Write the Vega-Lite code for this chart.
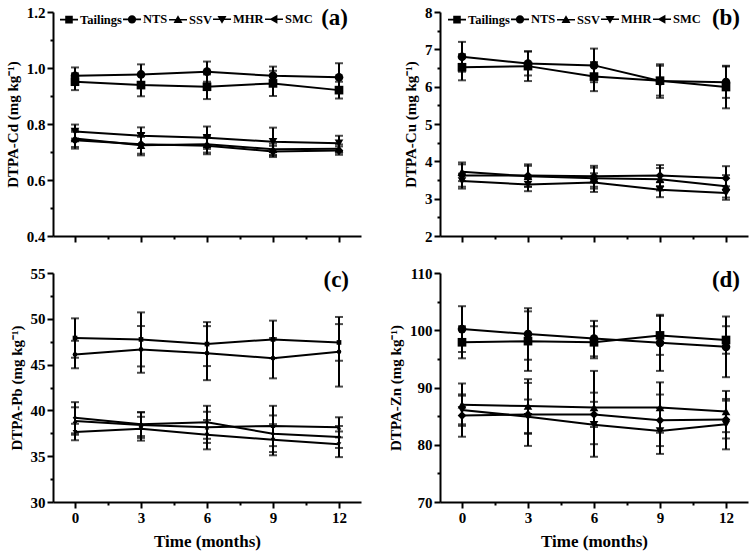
{
  "$schema": "https://vega.github.io/schema/vega-lite/v6.json",
  "background": "white",
  "padding": 5,
  "datasets": {
    "main": [
      {"p": "a", "s": "Tailings", "t": 0, "v": 0.951, "e": 0.03},
      {"p": "a", "s": "Tailings", "t": 3, "v": 0.939, "e": 0.04},
      {"p": "a", "s": "Tailings", "t": 6, "v": 0.933, "e": 0.044},
      {"p": "a", "s": "Tailings", "t": 9, "v": 0.945, "e": 0.045},
      {"p": "a", "s": "Tailings", "t": 12, "v": 0.921, "e": 0.03},
      {"p": "a", "s": "NTS", "t": 0, "v": 0.972, "e": 0.03},
      {"p": "a", "s": "NTS", "t": 3, "v": 0.977, "e": 0.036},
      {"p": "a", "s": "NTS", "t": 6, "v": 0.987, "e": 0.036},
      {"p": "a", "s": "NTS", "t": 9, "v": 0.972, "e": 0.033},
      {"p": "a", "s": "NTS", "t": 12, "v": 0.967, "e": 0.05},
      {"p": "a", "s": "SSV", "t": 0, "v": 0.748, "e": 0.03},
      {"p": "a", "s": "SSV", "t": 3, "v": 0.724, "e": 0.03},
      {"p": "a", "s": "SSV", "t": 6, "v": 0.728, "e": 0.03},
      {"p": "a", "s": "SSV", "t": 9, "v": 0.71, "e": 0.02},
      {"p": "a", "s": "SSV", "t": 12, "v": 0.712, "e": 0.015},
      {"p": "a", "s": "MHR", "t": 0, "v": 0.773, "e": 0.025},
      {"p": "a", "s": "MHR", "t": 3, "v": 0.758, "e": 0.03},
      {"p": "a", "s": "MHR", "t": 6, "v": 0.751, "e": 0.04},
      {"p": "a", "s": "MHR", "t": 9, "v": 0.737, "e": 0.05},
      {"p": "a", "s": "MHR", "t": 12, "v": 0.731, "e": 0.027},
      {"p": "a", "s": "SMC", "t": 0, "v": 0.742, "e": 0.03},
      {"p": "a", "s": "SMC", "t": 3, "v": 0.728, "e": 0.04},
      {"p": "a", "s": "SMC", "t": 6, "v": 0.722, "e": 0.03},
      {"p": "a", "s": "SMC", "t": 9, "v": 0.702, "e": 0.02},
      {"p": "a", "s": "SMC", "t": 12, "v": 0.705, "e": 0.015},
      {"p": "b", "s": "Tailings", "t": 0, "v": 6.52, "e": 0.35},
      {"p": "b", "s": "Tailings", "t": 3, "v": 6.55, "e": 0.4},
      {"p": "b", "s": "Tailings", "t": 6, "v": 6.27, "e": 0.39},
      {"p": "b", "s": "Tailings", "t": 9, "v": 6.16, "e": 0.4},
      {"p": "b", "s": "Tailings", "t": 12, "v": 5.99, "e": 0.57},
      {"p": "b", "s": "NTS", "t": 0, "v": 6.8, "e": 0.4},
      {"p": "b", "s": "NTS", "t": 3, "v": 6.62, "e": 0.32},
      {"p": "b", "s": "NTS", "t": 6, "v": 6.57, "e": 0.45},
      {"p": "b", "s": "NTS", "t": 9, "v": 6.15, "e": 0.45},
      {"p": "b", "s": "NTS", "t": 12, "v": 6.12, "e": 0.42},
      {"p": "b", "s": "SSV", "t": 0, "v": 3.72, "e": 0.25},
      {"p": "b", "s": "SSV", "t": 3, "v": 3.6, "e": 0.28},
      {"p": "b", "s": "SSV", "t": 6, "v": 3.55, "e": 0.28},
      {"p": "b", "s": "SSV", "t": 9, "v": 3.52, "e": 0.3},
      {"p": "b", "s": "SSV", "t": 12, "v": 3.33, "e": 0.3},
      {"p": "b", "s": "MHR", "t": 0, "v": 3.47, "e": 0.2},
      {"p": "b", "s": "MHR", "t": 3, "v": 3.38, "e": 0.18},
      {"p": "b", "s": "MHR", "t": 6, "v": 3.43, "e": 0.25},
      {"p": "b", "s": "MHR", "t": 9, "v": 3.24, "e": 0.2},
      {"p": "b", "s": "MHR", "t": 12, "v": 3.15, "e": 0.18},
      {"p": "b", "s": "SMC", "t": 0, "v": 3.62, "e": 0.3},
      {"p": "b", "s": "SMC", "t": 3, "v": 3.62, "e": 0.3},
      {"p": "b", "s": "SMC", "t": 6, "v": 3.6, "e": 0.28},
      {"p": "b", "s": "SMC", "t": 9, "v": 3.62, "e": 0.28},
      {"p": "b", "s": "SMC", "t": 12, "v": 3.55, "e": 0.32},
      {"p": "c", "s": "Tailings", "t": 0, "v": 47.9, "e": 2.15},
      {"p": "c", "s": "Tailings", "t": 3, "v": 47.75, "e": 2.95},
      {"p": "c", "s": "Tailings", "t": 6, "v": 47.24, "e": 2.4},
      {"p": "c", "s": "Tailings", "t": 9, "v": 47.75, "e": 2.05},
      {"p": "c", "s": "Tailings", "t": 12, "v": 47.42, "e": 2.0},
      {"p": "c", "s": "NTS", "t": 0, "v": 46.1, "e": 1.5},
      {"p": "c", "s": "NTS", "t": 3, "v": 46.66, "e": 2.55},
      {"p": "c", "s": "NTS", "t": 6, "v": 46.25, "e": 2.95},
      {"p": "c", "s": "NTS", "t": 9, "v": 45.7, "e": 2.2},
      {"p": "c", "s": "NTS", "t": 12, "v": 46.4, "e": 3.8},
      {"p": "c", "s": "SSV", "t": 0, "v": 38.84, "e": 1.5},
      {"p": "c", "s": "SSV", "t": 3, "v": 38.4, "e": 1.4},
      {"p": "c", "s": "SSV", "t": 6, "v": 38.15, "e": 1.7},
      {"p": "c", "s": "SSV", "t": 9, "v": 38.3, "e": 2.2},
      {"p": "c", "s": "SSV", "t": 12, "v": 38.15, "e": 1.1},
      {"p": "c", "s": "MHR", "t": 0, "v": 37.64, "e": 0.9},
      {"p": "c", "s": "MHR", "t": 3, "v": 38.0, "e": 1.3},
      {"p": "c", "s": "MHR", "t": 6, "v": 37.35, "e": 1.6},
      {"p": "c", "s": "MHR", "t": 9, "v": 36.8, "e": 1.7},
      {"p": "c", "s": "MHR", "t": 12, "v": 36.3, "e": 1.4},
      {"p": "c", "s": "SMC", "t": 0, "v": 39.2, "e": 1.7},
      {"p": "c", "s": "SMC", "t": 3, "v": 38.5, "e": 1.3},
      {"p": "c", "s": "SMC", "t": 6, "v": 38.7, "e": 1.8},
      {"p": "c", "s": "SMC", "t": 9, "v": 37.45, "e": 2.0},
      {"p": "c", "s": "SMC", "t": 12, "v": 37.1, "e": 1.2},
      {"p": "d", "s": "Tailings", "t": 0, "v": 97.9, "e": 2.8},
      {"p": "d", "s": "Tailings", "t": 3, "v": 98.1, "e": 5.2},
      {"p": "d", "s": "Tailings", "t": 6, "v": 97.9, "e": 2.8},
      {"p": "d", "s": "Tailings", "t": 9, "v": 99.1, "e": 3.4},
      {"p": "d", "s": "Tailings", "t": 12, "v": 98.3, "e": 2.4},
      {"p": "d", "s": "NTS", "t": 0, "v": 100.2, "e": 4.0},
      {"p": "d", "s": "NTS", "t": 3, "v": 99.35, "e": 4.5},
      {"p": "d", "s": "NTS", "t": 6, "v": 98.54, "e": 3.1},
      {"p": "d", "s": "NTS", "t": 9, "v": 97.8, "e": 4.9},
      {"p": "d", "s": "NTS", "t": 12, "v": 97.1, "e": 5.3},
      {"p": "d", "s": "SSV", "t": 0, "v": 87.0, "e": 3.7},
      {"p": "d", "s": "SSV", "t": 3, "v": 86.76, "e": 4.7},
      {"p": "d", "s": "SSV", "t": 6, "v": 86.5, "e": 6.4},
      {"p": "d", "s": "SSV", "t": 9, "v": 86.5, "e": 4.4},
      {"p": "d", "s": "SSV", "t": 12, "v": 85.8, "e": 3.6},
      {"p": "d", "s": "MHR", "t": 0, "v": 86.07, "e": 2.5},
      {"p": "d", "s": "MHR", "t": 3, "v": 84.9, "e": 3.0},
      {"p": "d", "s": "MHR", "t": 6, "v": 83.5, "e": 5.6},
      {"p": "d", "s": "MHR", "t": 9, "v": 82.4, "e": 4.0},
      {"p": "d", "s": "MHR", "t": 12, "v": 83.6, "e": 4.4},
      {"p": "d", "s": "SMC", "t": 0, "v": 85.1, "e": 3.7},
      {"p": "d", "s": "SMC", "t": 3, "v": 85.3, "e": 5.5},
      {"p": "d", "s": "SMC", "t": 6, "v": 85.3, "e": 2.2},
      {"p": "d", "s": "SMC", "t": 9, "v": 84.27, "e": 4.5},
      {"p": "d", "s": "SMC", "t": 12, "v": 84.4, "e": 3.3}
    ]
  },
  "data": {"name": "main"},
  "columns": 2,
  "align": "each",
  "spacing": {"row": 22, "column": 27},
  "concat": [
    {
      "width": 308, "height": 224,
      "title": {"text": "(a)", "anchor": "end", "offset": -25, "dx": -13},
      "transform": [{"filter": "datum.p === 'a'"}],
      "encoding": {
        "x": {"field": "t", "type": "quantitative", "scale": {"domain": [-1, 13], "nice": false, "zero": false},
          "axis": {"values": [0, 1.5, 3, 4.5, 6, 7.5, 9, 10.5, 12], "labels": false, "title": null,
            "tickSize": {"condition": {"test": "datum.value % 3 === 0", "value": 6}, "value": 3}}},
        "y": {"field": "v", "type": "quantitative", "scale": {"domain": [0.4, 1.2], "nice": false, "zero": false},
          "axis": {"values": [0.4, 0.5, 0.6, 0.7, 0.8, 0.9, 1.0, 1.1, 1.2], "title": "DTPA-Cd (mg kg⁻¹)",
            "labelExpr": "abs(datum.value*5 - round(datum.value*5)) < 0.001 ? format(datum.value, '.1f') : ''",
            "tickSize": {"condition": {"test": "abs(datum.value*5 - round(datum.value*5)) < 0.001", "value": 6}, "value": 3}}}
      },
      "layer": [
        {"mark": {"type": "errorbar", "color": "black", "ticks": {"size": 8, "thickness": 2}, "rule": {"strokeWidth": 2}}, "encoding": {"yError": {"field": "e"}}},
        {"mark": {"type": "line", "color": "black", "strokeWidth": 2}, "encoding": {"detail": {"field": "s"}}},
        {"mark": {"type": "point", "filled": true, "color": "black", "opacity": 1, "size": 75},
          "encoding": {"shape": {"field": "s", "scale": {"domain": ["Tailings", "NTS", "SSV", "MHR", "SMC"], "range": ["square", "circle", "triangle-up", "triangle-down", "diamond"]}, "legend": null}}},
        {"mark": {"type": "point", "filled": true, "color": "black", "opacity": 0, "size": 324},
          "encoding": {"shape": {"field": "s", "scale": {"domain": ["Tailings", "NTS", "SSV", "MHR", "SMC"],
            "range": ["M-1,-0.09H1V0.09H-1ZM-0.42,-0.42H0.42V0.42H-0.42Z", "M-1,-0.09H1V0.09H-1ZM0.46,0A0.46,0.46,0,1,1,-0.46,0A0.46,0.46,0,1,1,0.46,0Z", "M-1,-0.09H1V0.09H-1ZM0,-0.5L0.5,0.37H-0.5Z", "M-1,-0.09H1V0.09H-1ZM0,0.5L-0.5,-0.37H0.5Z", "M-1,-0.09H1V0.09H-1ZM-0.5,0L0.38,-0.5V0.5Z"]},
            "legend": {"orient": "none", "legendX": 6, "legendY": -3, "direction": "horizontal", "title": null}}}}
      ],
      "resolve": {"scale": {"shape": "independent"}}
    },
    {
      "width": 308, "height": 224,
      "title": {"text": "(b)", "anchor": "end", "offset": -25, "dx": -8},
      "transform": [{"filter": "datum.p === 'b'"}],
      "encoding": {
        "x": {"field": "t", "type": "quantitative", "scale": {"domain": [-1, 13], "nice": false, "zero": false},
          "axis": {"values": [0, 1.5, 3, 4.5, 6, 7.5, 9, 10.5, 12], "labels": false, "title": null,
            "tickSize": {"condition": {"test": "datum.value % 3 === 0", "value": 6}, "value": 3}}},
        "y": {"field": "v", "type": "quantitative", "scale": {"domain": [2, 8], "nice": false, "zero": false},
          "axis": {"values": [2, 2.5, 3, 3.5, 4, 4.5, 5, 5.5, 6, 6.5, 7, 7.5, 8], "title": "DTPA-Cu (mg kg⁻¹)",
            "labelExpr": "datum.value % 1 === 0 ? format(datum.value, 'd') : ''",
            "tickSize": {"condition": {"test": "datum.value % 1 === 0", "value": 6}, "value": 3}}}
      },
      "layer": [
        {"mark": {"type": "errorbar", "color": "black", "ticks": {"size": 8, "thickness": 2}, "rule": {"strokeWidth": 2}}, "encoding": {"yError": {"field": "e"}}},
        {"mark": {"type": "line", "color": "black", "strokeWidth": 2}, "encoding": {"detail": {"field": "s"}}},
        {"mark": {"type": "point", "filled": true, "color": "black", "opacity": 1, "size": 75},
          "encoding": {"shape": {"field": "s", "scale": {"domain": ["Tailings", "NTS", "SSV", "MHR", "SMC"], "range": ["square", "circle", "triangle-up", "triangle-down", "diamond"]}, "legend": null}}},
        {"mark": {"type": "point", "filled": true, "color": "black", "opacity": 0, "size": 324},
          "encoding": {"shape": {"field": "s", "scale": {"domain": ["Tailings", "NTS", "SSV", "MHR", "SMC"],
            "range": ["M-1,-0.09H1V0.09H-1ZM-0.42,-0.42H0.42V0.42H-0.42Z", "M-1,-0.09H1V0.09H-1ZM0.46,0A0.46,0.46,0,1,1,-0.46,0A0.46,0.46,0,1,1,0.46,0Z", "M-1,-0.09H1V0.09H-1ZM0,-0.5L0.5,0.37H-0.5Z", "M-1,-0.09H1V0.09H-1ZM0,0.5L-0.5,-0.37H0.5Z", "M-1,-0.09H1V0.09H-1ZM-0.5,0L0.38,-0.5V0.5Z"]},
            "legend": {"orient": "none", "legendX": 7, "legendY": -3, "direction": "horizontal", "title": null}}}}
      ],
      "resolve": {"scale": {"shape": "independent"}}
    },
    {
      "width": 308, "height": 229,
      "title": {"text": "(c)", "anchor": "end", "offset": -26, "dx": -12},
      "transform": [{"filter": "datum.p === 'c'"}],
      "encoding": {
        "x": {"field": "t", "type": "quantitative", "scale": {"domain": [-1, 13], "nice": false, "zero": false},
          "axis": {"values": [0, 1.5, 3, 4.5, 6, 7.5, 9, 10.5, 12], "title": "Time (months)",
            "labelExpr": "datum.value % 3 === 0 ? format(datum.value, 'd') : ''",
            "tickSize": {"condition": {"test": "datum.value % 3 === 0", "value": 6}, "value": 3}}},
        "y": {"field": "v", "type": "quantitative", "scale": {"domain": [30, 55], "nice": false, "zero": false},
          "axis": {"values": [30, 32.5, 35, 37.5, 40, 42.5, 45, 47.5, 50, 52.5, 55], "title": "DTPA-Pb (mg kg⁻¹)",
            "labelExpr": "datum.value % 5 === 0 ? format(datum.value, 'd') : ''",
            "tickSize": {"condition": {"test": "datum.value % 5 === 0", "value": 6}, "value": 3}}}
      },
      "layer": [
        {"mark": {"type": "errorbar", "color": "black", "ticks": {"size": 8, "thickness": 2}, "rule": {"strokeWidth": 2}}, "encoding": {"yError": {"field": "e"}}},
        {"mark": {"type": "line", "color": "black", "strokeWidth": 2}, "encoding": {"detail": {"field": "s"}}},
        {"mark": {"type": "point", "filled": true, "color": "black", "opacity": 1, "size": 22},
          "encoding": {"shape": {"field": "s", "scale": {"domain": ["Tailings", "NTS", "SSV", "MHR", "SMC"], "range": ["square", "circle", "triangle-up", "triangle-down", "diamond"]}, "legend": null}}}
      ]
    },
    {
      "width": 308, "height": 229,
      "title": {"text": "(d)", "anchor": "end", "offset": -26, "dx": -8},
      "transform": [{"filter": "datum.p === 'd'"}],
      "encoding": {
        "x": {"field": "t", "type": "quantitative", "scale": {"domain": [-1, 13], "nice": false, "zero": false},
          "axis": {"values": [0, 1.5, 3, 4.5, 6, 7.5, 9, 10.5, 12], "title": "Time (months)",
            "labelExpr": "datum.value % 3 === 0 ? format(datum.value, 'd') : ''",
            "tickSize": {"condition": {"test": "datum.value % 3 === 0", "value": 6}, "value": 3}}},
        "y": {"field": "v", "type": "quantitative", "scale": {"domain": [70, 110], "nice": false, "zero": false},
          "axis": {"values": [70, 75, 80, 85, 90, 95, 100, 105, 110], "title": "DTPA-Zn (mg kg⁻¹)",
            "labelExpr": "datum.value % 10 === 0 ? format(datum.value, 'd') : ''",
            "tickSize": {"condition": {"test": "datum.value % 10 === 0", "value": 6}, "value": 3}}}
      },
      "layer": [
        {"mark": {"type": "errorbar", "color": "black", "ticks": {"size": 8, "thickness": 2}, "rule": {"strokeWidth": 2}}, "encoding": {"yError": {"field": "e"}}},
        {"mark": {"type": "line", "color": "black", "strokeWidth": 2}, "encoding": {"detail": {"field": "s"}}},
        {"mark": {"type": "point", "filled": true, "color": "black", "opacity": 1, "size": 75},
          "encoding": {"shape": {"field": "s", "scale": {"domain": ["Tailings", "NTS", "SSV", "MHR", "SMC"], "range": ["square", "circle", "triangle-up", "triangle-down", "diamond"]}, "legend": null}}}
      ]
    }
  ],
  "resolve": {"scale": {"shape": "independent"}, "legend": {"shape": "independent"}},
  "config": {
    "font": "Liberation Serif",
    "view": {"stroke": null},
    "axis": {"domainColor": "black", "domainWidth": 2, "tickColor": "black", "tickWidth": 2, "labelColor": "black",
      "labelFont": "Liberation Serif", "labelFontWeight": "bold", "labelFontSize": 15, "titleFont": "Liberation Serif",
      "titleFontWeight": "bold", "titleFontSize": 15, "titleColor": "black", "grid": false, "labelOverlap": false,
      "labelFlush": false, "labelPadding": 2, "titlePadding": 6},
    "axisX": {"titleFontSize": 17, "titlePadding": 8},
    "legend": {"labelFont": "Liberation Serif", "labelFontWeight": "bold", "labelFontSize": 12.5, "labelColor": "black",
      "symbolSize": 324, "symbolFillColor": "black", "symbolOpacity": 1, "columnPadding": -4, "labelOffset": 1, "padding": 0},
    "title": {"font": "Liberation Serif", "fontWeight": "bold", "fontSize": 23, "color": "black"}
  }
}
